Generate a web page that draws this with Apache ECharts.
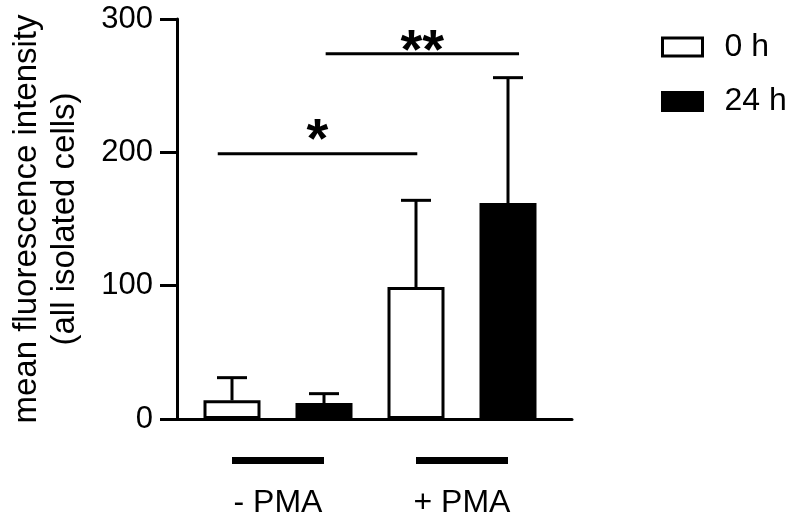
<!DOCTYPE html>
<html><head><meta charset="utf-8">
<script src="https://cdn.jsdelivr.net/npm/echarts@6/dist/echarts.min.js"></script>
<style>html,body{margin:0;padding:0;background:#fff}#c{width:798px;height:525px}</style>
</head><body><div id="c"></div>
<script>
// ---- data ----
const categories = ['- PMA', '+ PMA'];
const seriesNames = ['0 h', '24 h'];
const mean0h = [14, 99];
const mean24h = [12, 162];
const errTop0h = [31, 164];   // mean + SD (upper whisker)
const errTop24h = [19, 256];
const yMin = 0, yMax = 300, yStep = 100;
// significance brackets, x in bar-slot units (slot 0..3 = bars left to right)
const sigFrom = [-0.155, 1.018];
const sigTo = [2.014, 3.12];
const sigValue = [199, 274];
const sigText = ['*', '**'];
const sigTextValue = [208, 275];

const FONT = 'Liberation Sans, Arial, sans-serif';
const chart = echarts.init(document.getElementById('c'), null, {renderer: 'canvas'});

const errData = [];
categories.forEach((c, ci) => {
  errData.push([ci * 2, mean0h[ci], errTop0h[ci]]);
  errData.push([ci * 2 + 1, mean24h[ci], errTop24h[ci]]);
});
const sigData = sigFrom.map((f, i) => [f, sigTo[i], sigValue[i], sigTextValue[i], i]);

chart.setOption({
  animation: false,
  backgroundColor: '#fff',
  grid: [
    {left: 186, width: 368, top: 19, bottom: 106},
    {left: 171, width: 401, top: 19, bottom: 106}
  ],
  legend: {
    orient: 'vertical', left: 661, top: 31, padding: 0,
    itemWidth: 40, itemHeight: 18, itemGap: 22.5, icon: 'rect',
    textStyle: {fontSize: 32, fontFamily: FONT, color: '#000', lineHeight: 32, padding: [0, 0, 0, 17]},
    data: [
      {name: seriesNames[0], itemStyle: {color: '#fff', borderColor: '#000', borderWidth: 3}},
      {name: seriesNames[1], itemStyle: {color: '#000', borderColor: '#000', borderWidth: 3}}
    ]
  },
  xAxis: [
    {type: 'category', gridIndex: 0, data: categories,
     axisLine: {show: false}, axisTick: {show: false},
     axisLabel: {interval: 0, margin: 38, color: '#000',
       formatter: v => '{bar| }\n{lab|' + v + '}',
       rich: {
         bar: {width: 92, height: 7, lineHeight: 7, backgroundColor: '#000', fontSize: 4},
         lab: {fontSize: 32, lineHeight: 78, fontFamily: FONT, color: '#000'}
       }}},
    {type: 'value', gridIndex: 0, min: -0.5, max: 3.5, show: false},
    {type: 'value', gridIndex: 1, min: 0, max: 1,
     axisLine: {show: true, lineStyle: {color: '#000', width: 3}},
     axisTick: {show: false}, axisLabel: {show: false}, splitLine: {show: false}}
  ],
  yAxis: [
    {type: 'value', gridIndex: 0, min: yMin, max: yMax, interval: yStep, show: false},
    {type: 'value', gridIndex: 1, min: yMin, max: yMax, interval: yStep,
     name: 'mean fluorescence intensity\n(all isolated cells)',
     nameLocation: 'middle', nameRotate: 90, nameGap: 93,
     nameTextStyle: {fontSize: 33, lineHeight: 38, fontFamily: FONT, color: '#000'},
     axisLine: {show: true, lineStyle: {color: '#000', width: 3}},
     axisTick: {show: true, length: 17, lineStyle: {color: '#000', width: 3}},
     axisLabel: {margin: 24, fontSize: 31, fontFamily: FONT, color: '#000'},
     splitLine: {show: false}}
  ],
  series: [
    {name: seriesNames[0], type: 'bar', xAxisIndex: 0, yAxisIndex: 0,
     barWidth: 57, barGap: '61.4%', data: mean0h,
     itemStyle: {color: '#fff', borderColor: '#000', borderWidth: 3}},
    {name: seriesNames[1], type: 'bar', xAxisIndex: 0, yAxisIndex: 0,
     barWidth: 57, barGap: '61.4%', data: mean24h,
     itemStyle: {color: '#000', borderColor: '#000', borderWidth: 3}},
    {type: 'custom', xAxisIndex: 1, yAxisIndex: 0, data: errData, z: 1,
     renderItem: (params, api) => {
       const x = api.value(0);
       const p0 = api.coord([x, api.value(1)]);
       const p1 = api.coord([x, api.value(2)]);
       const st = {stroke: '#000', lineWidth: 3};
       return {type: 'group', children: [
         {type: 'line', shape: {x1: p0[0], y1: p0[1], x2: p1[0], y2: p1[1]}, style: st},
         {type: 'line', shape: {x1: p1[0] - 15, y1: p1[1], x2: p1[0] + 15, y2: p1[1]}, style: st}
       ]};
     }},
    {type: 'custom', xAxisIndex: 1, yAxisIndex: 0, data: sigData, clip: false,
     renderItem: (params, api) => {
       const a = api.coord([api.value(0), api.value(2)]);
       const b = api.coord([api.value(1), api.value(2)]);
       const t = api.coord([(api.value(0) + api.value(1)) / 2, api.value(3)]);
       return {type: 'group', children: [
         {type: 'line', shape: {x1: a[0], y1: a[1], x2: b[0], y2: b[1]}, style: {stroke: '#000', lineWidth: 3}},
         {type: 'text', x: t[0], y: t[1], style: {text: sigText[api.value(4)], fill: '#000',
           font: 'bold 56px ' + FONT, align: 'center', verticalAlign: 'middle'}}
       ]};
     }}
  ]
});
</script></body></html>
